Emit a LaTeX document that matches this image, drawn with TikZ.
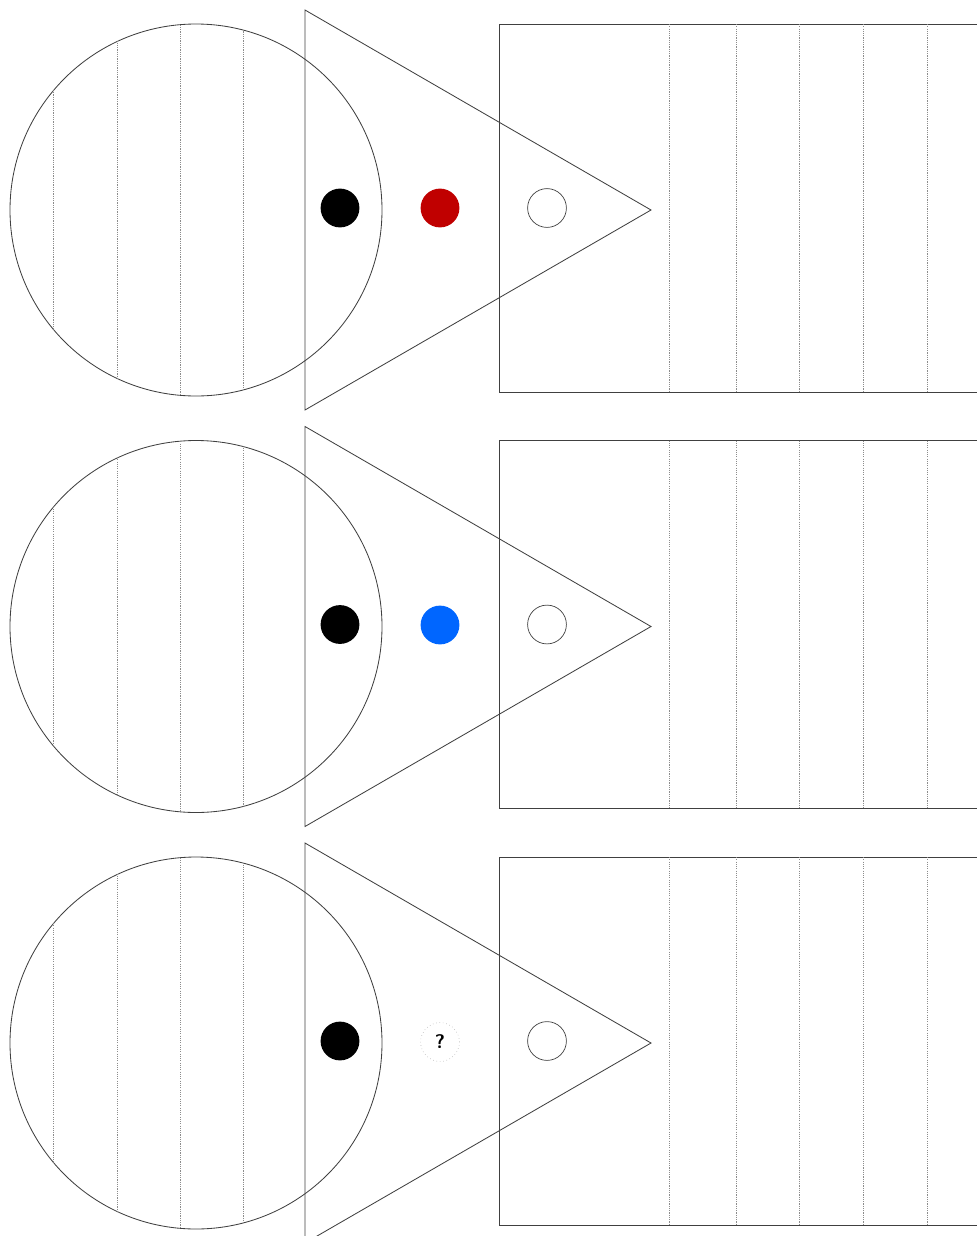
\documentclass[tikz,border=0pt]{standalone}
\usepackage{tikz}
\usetikzlibrary{positioning}
\definecolor{dotred} {RGB}{192, 0, 0}
\definecolor{dotblue}{RGB}{0, 102, 255}
\tikzset{
  % big outlines
  outline/.style={draw=black!75, line width=0.6pt},
  % fine dotted guide lines
  guide/.style={draw=black!45, line width=0.4pt, dash pattern=on 0.8pt off 0.8pt},
  % small round markers
  marker/.style={circle, minimum size=0.97cm, inner sep=0pt},
}

\begin{document}
\begin{tikzpicture}[x=0.025cm, y=-0.025cm]
  \useasboundingbox (0,0) rectangle (977,1236);
  \clip (0,0) rectangle (977,1236);
  % three identical panels
  \foreach \i in {0,1,2} {
    \pgfmathsetmacro\oy{416.5*\i}
    \begin{scope}[shift={(0,\oy)}]
      \draw[outline] (196,210) circle[radius=186];
      \begin{scope}
        \clip (196,210) circle[radius=186];
        \foreach \x in {53,117,180,243}
          \draw[guide] (\x,0) -- (\x,420);
      \end{scope}
      \draw[outline] (305,10) -- (651,210) -- (305,410) -- cycle;
      \draw[outline] (499,24) rectangle (1010,392);
      \foreach \x in {669,736,799,863,927}
        \draw[guide] (\x,24) -- (\x,392);
      \node[marker, fill=black] (black\i) at (340,208) {};
      \node[marker, draw=black!75, line width=0.5pt] (empty\i) at (547,208) {};
    \end{scope}
  }
  % middle markers
  \node[marker, fill=dotred]  (red)  at (440,208)  {};
  \node[marker, fill=dotblue] (blue) at (440,625)  {};
  \node[marker, draw=black!35, dotted, font=\fontsize{14}{16}\selectfont\sffamily\bfseries]
    (unknown) at (440,1042) {?};
\end{tikzpicture}
\end{document}
